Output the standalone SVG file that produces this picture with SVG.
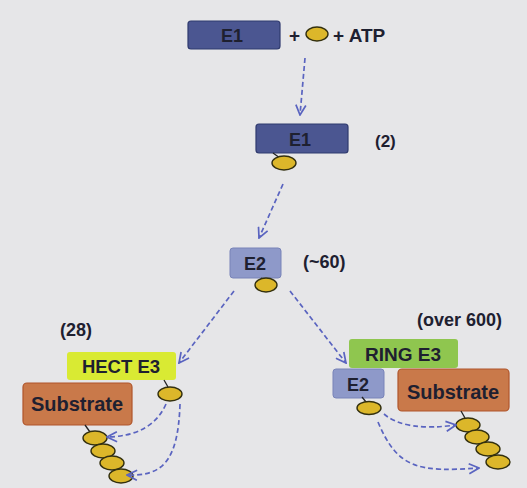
<svg xmlns="http://www.w3.org/2000/svg" width="527" height="488" viewBox="0 0 527 488">
<defs>
<marker id="ah" viewBox="0 0 12 12" refX="11" refY="6" markerWidth="12" markerHeight="12" markerUnits="userSpaceOnUse" orient="auto">
<path d="M1,1 L11,6 L1,11" fill="none" stroke="#5a64c0" stroke-width="1.7"/>
</marker>
</defs>
<style>
text{font-family:"Liberation Sans",Arial,sans-serif;font-weight:bold;fill:#1e2030}
.e1{fill:#4b5691;stroke:#2f3a6e;stroke-width:1.2}
.e2{fill:#8e99c9;stroke:#7883b8;stroke-width:1}
.ub{fill:#dcb72a;stroke:#33300f;stroke-width:1.4}
.tie{stroke:#222;stroke-width:1.3;fill:none}
.sub{fill:#c9794a;stroke:#b0552b;stroke-width:1.2}
.dash{fill:none;stroke:#5a64c0;stroke-width:1.7;stroke-dasharray:5,3;marker-end:url(#ah)}
.c{text-anchor:middle}
</style>
<rect width="527" height="488" fill="#e6e6e8"/>

<g id="e1-top">
<rect class="e1" x="188" y="21" width="92" height="28" rx="3"/>
<text class="c" x="232" y="42" font-size="18">E1</text>
</g>
<g id="reactants">
<text x="289" y="42" font-size="19">+</text>
<ellipse class="ub" cx="317" cy="34" rx="11" ry="7"/>
<text x="333" y="42" font-size="19">+ ATP</text>
</g>

<g id="e1-charged">
<rect class="e1" x="256" y="124" width="92" height="29" rx="3"/>
<text class="c" x="300" y="146" font-size="18">E1</text>
<path class="tie" d="M273,153 L280,158"/>
<ellipse class="ub" cx="284" cy="163" rx="12" ry="7"/>
<text x="375" y="147" font-size="17">(2)</text>
</g>

<g id="e2-charged">
<rect class="e2" x="230" y="248" width="51" height="30" rx="3"/>
<text class="c" x="255" y="270" font-size="18">E2</text>
<path class="tie" d="M261,278 L264,281"/>
<ellipse class="ub" cx="266" cy="285" rx="11" ry="7"/>
<text x="303" y="268" font-size="18">(~60)</text>
</g>

<g id="hect">
<text x="60" y="336" font-size="18">(28)</text>
<rect x="67" y="352" width="109" height="28" rx="3" fill="#d9ea33"/>
<text class="c" x="121" y="373" font-size="18.5">HECT E3</text>
<path class="tie" d="M164,380 L168,387"/>
<ellipse class="ub" cx="170" cy="394" rx="12" ry="7"/>
</g>
<g id="substrate-left">
<rect class="sub" x="23" y="383" width="109" height="42" rx="4"/>
<text class="c" x="77" y="411" font-size="20">Substrate</text>
<path class="tie" d="M85,425 L90,432"/>
<ellipse class="ub" cx="95" cy="438" rx="12" ry="7"/>
<ellipse class="ub" cx="103" cy="451" rx="12" ry="7"/>
<ellipse class="ub" cx="112" cy="463" rx="12" ry="7"/>
<ellipse class="ub" cx="121" cy="476" rx="12" ry="7"/>
</g>

<g id="ring">
<text x="417" y="326" font-size="18">(over 600)</text>
<rect x="349" y="339" width="109" height="29" rx="3" fill="#8fc64f"/>
<text class="c" x="403" y="361" font-size="19">RING E3</text>
<rect class="e2" x="333" y="369" width="51" height="29" rx="3"/>
<text class="c" x="358" y="391" font-size="18">E2</text>
<path class="tie" d="M362,397 L366,402"/>
<ellipse class="ub" cx="369" cy="408" rx="12" ry="6.5"/>
</g>
<g id="substrate-right">
<rect class="sub" x="398" y="369" width="111" height="42" rx="4"/>
<text class="c" x="453" y="399" font-size="20">Substrate</text>
<path class="tie" d="M461,411 L465,418"/>
<ellipse class="ub" cx="468" cy="425" rx="12" ry="7"/>
<ellipse class="ub" cx="477" cy="437" rx="12" ry="7"/>
<ellipse class="ub" cx="488" cy="449" rx="12" ry="7"/>
<ellipse class="ub" cx="498" cy="462" rx="12" ry="7"/>
</g>

<g id="connectors">
<path class="dash" d="M305,58 L300,115"/>
<path class="dash" d="M283,184 L259,238"/>
<path class="dash" d="M234,291 L179,363"/>
<path class="dash" d="M290,291 L346,363"/>
<path class="dash" d="M166,404 Q152,436 107,437"/>
<path class="dash" d="M180,404 C178,465 160,476 127,475"/>
<path class="dash" d="M384,414 Q405,432 456,425"/>
<path class="dash" d="M378,422 C398,470 420,472 479,468"/>
</g>
</svg>
